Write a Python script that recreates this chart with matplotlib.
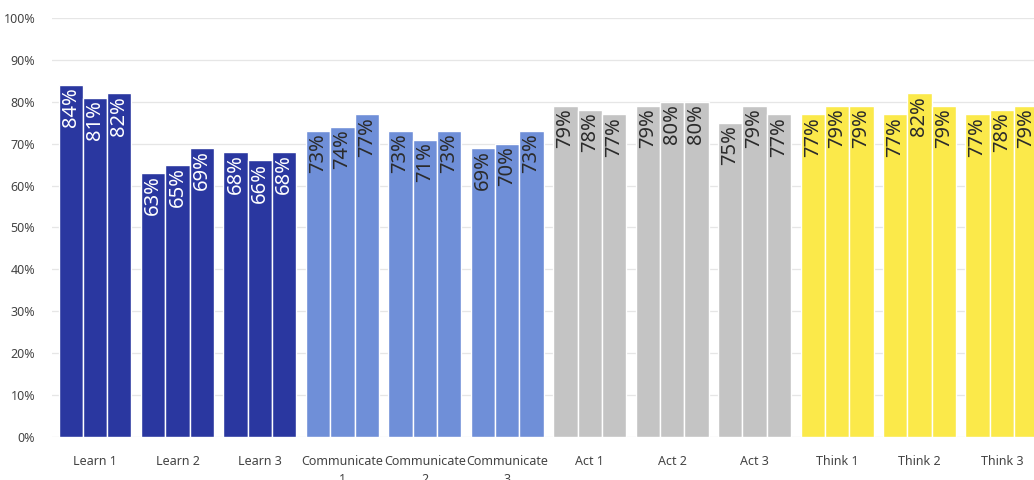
import numpy as np
import matplotlib
matplotlib.use("Agg")
import matplotlib.pyplot as plt

plt.rcParams["font.family"] = ["Noto Sans", "DejaVu Sans"]

groups = ["Learn 1", "Learn 2", "Learn 3",
          "Communicate\n1", "Communicate\n2", "Communicate\n3",
          "Act 1", "Act 2", "Act 3",
          "Think 1", "Think 2", "Think 3"]
bar_a = [84, 63, 68, 73, 73, 69, 79, 79, 75, 77, 77, 77]
bar_b = [81, 65, 66, 74, 71, 70, 78, 80, 79, 79, 82, 78]
bar_c = [82, 69, 68, 77, 73, 73, 77, 80, 77, 79, 79, 79]
colors = ["#2a37a0"] * 3 + ["#6f8fd8"] * 3 + ["#c4c4c4"] * 3 + ["#fbe94a"] * 3
label_colors = ["white"] * 3 + ["#2b2b2b"] * 9

fig = plt.figure(figsize=(10.34, 4.8), dpi=100)
ax = fig.add_axes([52 / 1034, 43 / 480, 1 - 52 / 1034, (437 - 18) / 480])

x = np.arange(len(groups))
w = 0.295
for off, vals in zip((-w, 0, w), (bar_a, bar_b, bar_c)):
    ax.bar(x + off, vals, width=w, color=colors, edgecolor="white", linewidth=1.0, zorder=2)
    for xi, v, lc in zip(x + off, vals, label_colors):
        ax.text(xi, v - 0.6, f"{v}%", rotation=90, ha="center", va="top",
                fontsize=14.5, color=lc, zorder=3)

ax.set_ylim(0, 100)
ax.set_xlim(-0.5215, 11.389)
ax.set_yticks(np.arange(0, 101, 10))
ax.set_yticklabels([f"{t}%" for t in range(0, 101, 10)])
ax.set_xticks(x)
ax.set_xticklabels(groups, linespacing=1.5)
ax.tick_params(axis="both", length=0, labelsize=9, colors="#444444")
ax.tick_params(axis="x", pad=13)
ax.tick_params(axis="y", pad=12)
ax.grid(axis="y", color="#e6e6e6", linewidth=0.9, zorder=0)
for s in ax.spines.values():
    s.set_visible(False)

fig.savefig("out.png", dpi=100)
